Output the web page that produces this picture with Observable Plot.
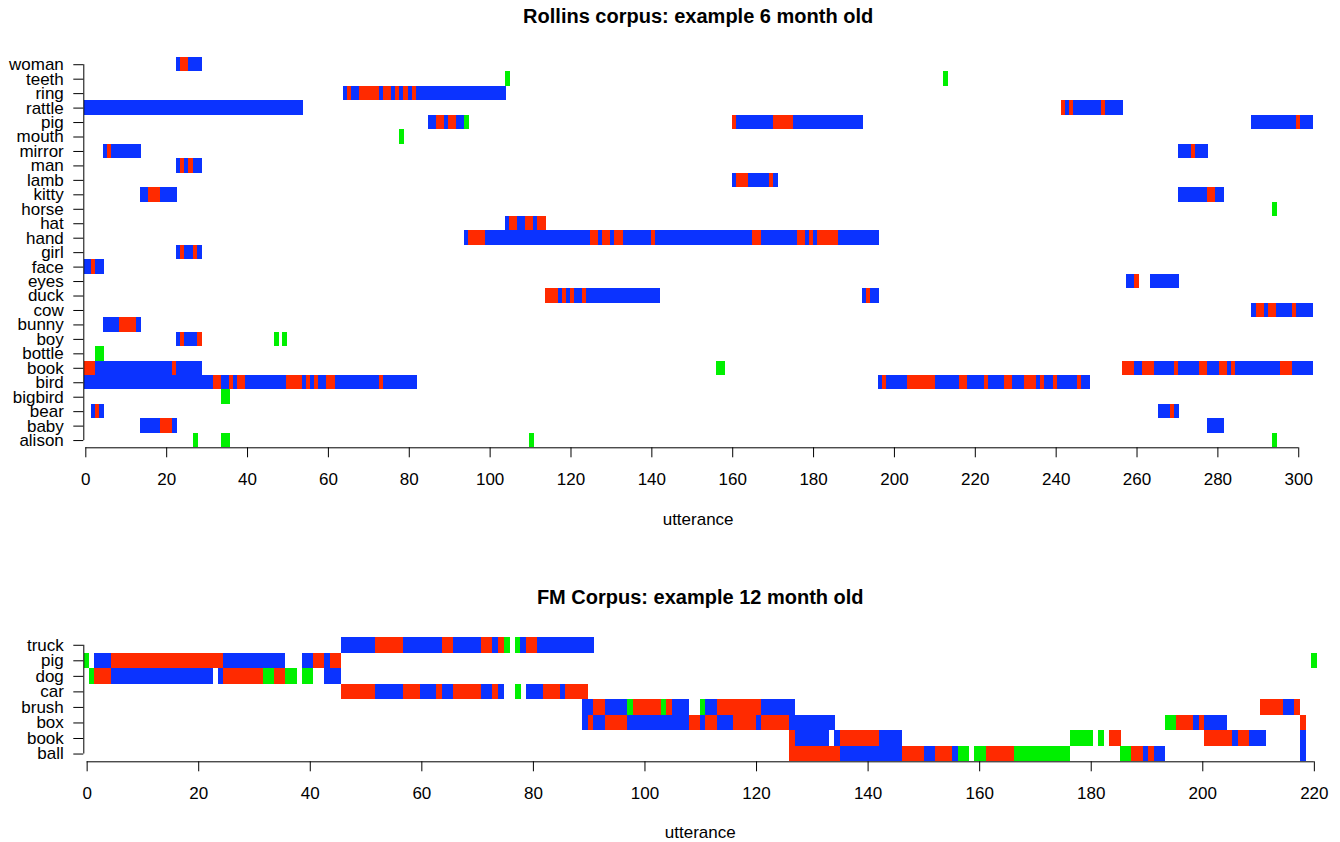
<!DOCTYPE html>
<html>
<head>
<meta charset="utf-8">
<script src="https://cdn.jsdelivr.net/npm/d3@7"></script>
<script src="https://cdn.jsdelivr.net/npm/@observablehq/plot@0.6"></script>
<style>
  html, body { margin: 0; padding: 0; background: #fff; }
  #wrap { position: relative; width: 1340px; height: 842px; overflow: hidden; font-family: "Liberation Sans", Arial, Helvetica, sans-serif; color: #000; background: #fff; }
  .ttl { position: absolute; z-index: 5; text-align: center; font-weight: bold; font-size: 20px; line-height: 20px; white-space: nowrap; }
  .xl { position: absolute; z-index: 5; text-align: center; font-size: 17px; line-height: 17px; white-space: nowrap; }
  .panel { position: absolute; left: 0; z-index: 1; }
</style>
</head>
<body>
<div id="wrap">
  <div class="panel" id="p1" style="top:0px;"></div>
  <div class="panel" id="p2" style="top:560px;"></div>
  <div class="ttl" id="t1" style="left:83.3px;width:1229.7px;top:6px;"></div>
  <div class="xl" id="x1" style="left:83.3px;width:1229.7px;top:510.5px;"></div>
  <div class="ttl" id="t2" style="left:83.3px;width:1233.9px;top:587px;"></div>
  <div class="xl" id="x2" style="left:83.3px;width:1233.9px;top:823.5px;"></div>
</div>
<script>
// ---------------- data ----------------
const titleTop = "Rollins corpus: example 6 month old";
const titleBottom = "FM Corpus: example 12 month old";
const xLabel = "utterance";

// categories (top to bottom)
const rowsTop = ["woman","teeth","ring","rattle","pig","mouth","mirror","man","lamb","kitty","horse","hat","hand","girl","face","eyes","duck","cow","bunny","boy","bottle","book","bird","bigbird","bear","baby","alison"];
const rowsBottom = ["truck","pig","dog","car","brush","box","book","ball"];

const xTicksTop = [0,20,40,60,80,100,120,140,160,180,200,220,240,260,280,300];
const xTicksBottom = [0,20,40,60,80,100,120,140,160,180,200,220];

// segment kinds: o = object present, n = object present & named, w = word without object
const kinds = ["o","n","w"];

// [word, start, end, kind]
const segsTop = [
  ["woman",22.4,23.4,"o"],["woman",23.4,25.4,"n"],["woman",25.4,28.9,"o"],
  ["teeth",103.8,105.1,"w"],["teeth",212.1,213.4,"w"],
  ["ring",63.7,64.7,"o"],["ring",64.7,65.7,"n"],["ring",65.7,67.7,"o"],["ring",67.7,72.6,"n"],["ring",72.6,73.6,"o"],["ring",73.6,75.6,"n"],["ring",75.6,76.6,"o"],["ring",76.6,77.6,"n"],["ring",77.6,78.6,"o"],["ring",78.6,79.8,"n"],["ring",79.8,80.8,"o"],["ring",80.8,81.8,"n"],["ring",81.8,104.1,"o"],
  ["rattle",-0.3,53.9,"o"],["rattle",241.3,242.3,"n"],["rattle",242.3,243.3,"o"],["rattle",243.3,244.3,"n"],["rattle",244.3,251.2,"o"],["rattle",251.2,252.2,"n"],["rattle",252.2,256.7,"o"],
  ["pig",84.8,86.7,"o"],["pig",86.7,88.7,"n"],["pig",88.7,89.7,"o"],["pig",89.7,91.7,"n"],["pig",91.7,93.7,"o"],["pig",93.7,94.9,"w"],["pig",160.0,160.9,"n"],["pig",160.9,170.1,"o"],["pig",170.1,175.0,"n"],["pig",175.0,192.4,"o"],["pig",288.3,299.5,"o"],["pig",299.5,300.4,"n"],["pig",300.4,303.7,"o"],
  ["mouth",77.6,78.8,"w"],
  ["mirror",4.4,5.4,"o"],["mirror",5.4,6.4,"n"],["mirror",6.4,13.8,"o"],["mirror",270.3,273.5,"o"],["mirror",273.5,274.5,"n"],["mirror",274.5,277.7,"o"],
  ["man",22.4,23.4,"o"],["man",23.4,24.4,"n"],["man",24.4,25.4,"o"],["man",25.4,26.6,"n"],["man",26.6,28.9,"o"],
  ["lamb",160.0,160.9,"o"],["lamb",160.9,163.9,"n"],["lamb",163.9,169.1,"o"],["lamb",169.1,170.1,"n"],["lamb",170.1,171.3,"o"],
  ["kitty",13.5,15.5,"o"],["kitty",15.5,18.5,"n"],["kitty",18.5,22.7,"o"],["kitty",270.3,277.4,"o"],["kitty",277.4,279.4,"n"],["kitty",279.4,281.7,"o"],
  ["horse",293.5,294.8,"w"],
  ["hat",103.8,104.8,"o"],["hat",104.8,106.8,"n"],["hat",106.8,108.8,"o"],["hat",108.8,110.7,"n"],["hat",110.7,111.7,"o"],["hat",111.7,114.0,"n"],
  ["hand",93.7,94.7,"o"],["hand",94.7,98.9,"n"],["hand",98.9,124.8,"o"],["hand",124.8,126.8,"n"],["hand",126.8,127.8,"o"],["hand",127.8,129.8,"n"],["hand",129.8,130.8,"o"],["hand",130.8,133.0,"n"],["hand",133.0,139.9,"o"],["hand",139.9,140.9,"n"],["hand",140.9,164.9,"o"],["hand",164.9,167.1,"n"],["hand",167.1,176.0,"o"],["hand",176.0,178.0,"n"],["hand",178.0,179.0,"o"],["hand",179.0,180.0,"n"],["hand",180.0,181.0,"o"],["hand",181.0,186.2,"n"],["hand",186.2,196.3,"o"],
  ["girl",22.4,23.4,"o"],["girl",23.4,24.4,"n"],["girl",24.4,26.6,"o"],["girl",26.6,27.6,"n"],["girl",27.6,28.9,"o"],
  ["face",-0.3,1.4,"o"],["face",1.4,2.4,"n"],["face",2.4,4.6,"o"],
  ["eyes",257.4,259.4,"o"],["eyes",259.4,260.6,"n"],["eyes",263.3,270.5,"o"],
  ["duck",113.7,116.9,"n"],["duck",116.9,117.9,"o"],["duck",117.9,118.9,"n"],["duck",118.9,119.9,"o"],["duck",119.9,120.9,"n"],["duck",120.9,122.9,"o"],["duck",122.9,123.9,"n"],["duck",123.9,142.2,"o"],["duck",192.1,193.1,"o"],["duck",193.1,194.1,"n"],["duck",194.1,196.3,"o"],
  ["cow",288.3,289.6,"o"],["cow",289.6,291.5,"n"],["cow",291.5,292.5,"o"],["cow",292.5,294.5,"n"],["cow",294.5,298.5,"o"],["cow",298.5,299.5,"n"],["cow",299.5,303.7,"o"],
  ["bunny",4.4,8.3,"o"],["bunny",8.3,12.5,"n"],["bunny",12.5,13.8,"o"],
  ["boy",22.4,23.4,"o"],["boy",23.4,24.4,"n"],["boy",24.4,27.6,"o"],["boy",27.6,28.9,"n"],["boy",46.7,47.9,"w"],["boy",48.7,49.9,"w"],
  ["bottle",2.4,4.6,"w"],
  ["book",-0.3,2.4,"n"],["book",2.4,21.4,"o"],["book",21.4,22.4,"n"],["book",22.4,28.9,"o"],["book",156.0,158.2,"w"],["book",256.4,259.4,"n"],["book",259.4,261.4,"o"],["book",261.4,264.3,"n"],["book",264.3,269.3,"o"],["book",269.3,270.3,"n"],["book",270.3,275.5,"o"],["book",275.5,277.4,"n"],["book",277.4,280.4,"o"],["book",280.4,282.4,"n"],["book",282.4,283.4,"o"],["book",283.4,284.4,"n"],["book",284.4,295.5,"o"],["book",295.5,298.5,"n"],["book",298.5,303.7,"o"],
  ["bird",-0.3,31.6,"o"],["bird",31.6,33.6,"n"],["bird",33.6,35.5,"o"],["bird",35.5,36.5,"n"],["bird",36.5,37.5,"o"],["bird",37.5,39.5,"n"],["bird",39.5,49.6,"o"],["bird",49.6,53.6,"n"],["bird",53.6,54.6,"o"],["bird",54.6,55.6,"n"],["bird",55.6,56.6,"o"],["bird",56.6,57.6,"n"],["bird",57.6,59.5,"o"],["bird",59.5,61.8,"n"],["bird",61.8,72.6,"o"],["bird",72.6,73.6,"n"],["bird",73.6,82.0,"o"],
  ["bird",196.1,197.1,"o"],["bird",197.1,198.1,"n"],["bird",198.1,203.2,"o"],["bird",203.2,210.2,"n"],["bird",210.2,216.1,"o"],["bird",216.1,218.1,"n"],["bird",218.1,222.3,"o"],["bird",222.3,223.3,"n"],["bird",223.3,227.2,"o"],["bird",227.2,229.2,"n"],["bird",229.2,232.2,"o"],["bird",232.2,235.1,"n"],["bird",235.1,236.1,"o"],["bird",236.1,237.1,"n"],["bird",237.1,239.4,"o"],["bird",239.4,240.3,"n"],["bird",240.3,245.3,"o"],["bird",245.3,246.3,"n"],["bird",246.3,248.5,"o"],
  ["bigbird",33.6,35.8,"w"],
  ["bear",1.4,2.4,"o"],["bear",2.4,3.4,"n"],["bear",3.4,4.6,"o"],["bear",265.3,268.3,"o"],["bear",268.3,269.3,"n"],["bear",269.3,270.5,"o"],
  ["baby",13.5,18.5,"o"],["baby",18.5,21.4,"n"],["baby",21.4,22.7,"o"],["baby",277.4,281.7,"o"],
  ["alison",26.6,27.9,"w"],["alison",33.6,35.8,"w"],["alison",109.7,111.0,"w"],["alison",293.5,294.8,"w"]
];

const segsBottom = [
  ["truck",45.6,51.7,"o"],["truck",51.7,56.7,"n"],["truck",56.7,63.7,"o"],["truck",63.7,65.7,"n"],["truck",65.7,70.7,"o"],["truck",70.7,72.7,"n"],["truck",72.7,73.8,"o"],["truck",73.8,74.8,"n"],["truck",74.8,75.9,"w"],["truck",76.8,77.7,"w"],["truck",77.7,78.8,"o"],["truck",78.8,80.7,"n"],["truck",80.7,91.0,"o"],
  ["pig",-0.5,0.4,"w"],["pig",1.3,4.4,"o"],["pig",4.4,24.4,"n"],["pig",24.4,35.6,"o"],["pig",38.6,40.6,"o"],["pig",40.6,42.6,"n"],["pig",42.6,43.6,"o"],["pig",43.6,45.6,"n"],["pig",219.5,220.6,"w"],
  ["dog",0.4,1.3,"w"],["dog",1.3,4.4,"n"],["dog",4.4,22.7,"o"],["dog",23.5,24.4,"o"],["dog",24.4,31.6,"n"],["dog",31.6,33.6,"w"],["dog",33.6,35.6,"n"],["dog",35.6,37.7,"w"],["dog",38.6,40.6,"w"],["dog",42.6,45.6,"o"],
  ["car",45.6,51.7,"n"],["car",51.7,56.7,"o"],["car",56.7,59.8,"n"],["car",59.8,62.6,"o"],["car",62.6,63.7,"n"],["car",63.7,65.7,"o"],["car",65.7,70.7,"n"],["car",70.7,72.7,"o"],["car",72.7,73.8,"n"],["car",73.8,74.8,"o"],["car",76.8,77.9,"w"],["car",78.8,81.8,"o"],["car",81.8,84.9,"n"],["car",84.9,85.8,"o"],["car",85.8,89.9,"n"],
  ["brush",88.8,90.8,"o"],["brush",90.8,92.9,"n"],["brush",92.9,96.9,"o"],["brush",96.9,98.0,"w"],["brush",98.0,103.0,"n"],["brush",103.0,103.9,"w"],["brush",103.9,104.9,"n"],["brush",104.9,108.0,"o"],["brush",110.0,110.9,"w"],["brush",110.9,113.0,"o"],["brush",113.0,120.9,"n"],["brush",120.9,127.0,"o"],["brush",210.4,214.5,"n"],["brush",214.5,216.5,"o"],["brush",216.5,217.5,"n"],
  ["box",88.8,89.9,"o"],["box",89.9,90.8,"n"],["box",90.8,92.9,"o"],["box",92.9,96.9,"n"],["box",96.9,108.0,"o"],["box",108.0,110.0,"n"],["box",110.0,110.9,"o"],["box",110.9,113.0,"n"],["box",113.0,115.9,"o"],["box",115.9,120.0,"n"],["box",120.0,120.9,"o"],["box",120.9,125.9,"n"],["box",125.9,134.2,"o"],["box",193.3,195.3,"w"],["box",195.3,198.4,"n"],["box",198.4,199.4,"o"],["box",199.4,200.3,"n"],["box",200.3,204.5,"o"],["box",217.5,218.6,"n"],
  ["book",125.9,127.0,"n"],["book",127.0,133.1,"o"],["book",134.0,135.1,"o"],["book",135.1,142.1,"n"],["book",142.1,146.2,"o"],["book",176.3,180.4,"w"],["book",181.3,182.4,"w"],["book",183.3,185.5,"n"],["book",200.3,205.4,"n"],["book",205.4,206.4,"o"],["book",206.4,208.4,"n"],["book",208.4,211.5,"o"],["book",217.5,218.6,"o"],
  ["ball",125.9,135.1,"n"],["ball",135.1,146.2,"o"],["ball",146.2,150.1,"n"],["ball",150.1,152.1,"o"],["ball",152.1,155.2,"n"],["ball",155.2,156.2,"o"],["ball",156.2,158.2,"w"],["ball",159.1,161.2,"w"],["ball",161.2,166.3,"n"],["ball",166.3,176.3,"w"],["ball",185.3,187.2,"w"],["ball",187.2,189.4,"n"],["ball",189.4,190.3,"o"],["ball",190.3,191.4,"n"],["ball",191.4,193.3,"o"],["ball",217.5,218.6,"o"]
];

// ---------------- drawing ----------------
const kindColors = ["#0b33ff", "#ff2a00", "#00f000"];
const font = '"Liberation Sans", Arial, Helvetica, sans-serif';

function panel({rows, segs, ticks, xDomain, height, mTop, mBottom, mLeft, mRight}) {
  const n = rows.length;
  const idx = new Map(rows.map((r, i) => [r, n - 1 - i]));
  const positions = rows.map((r, i) => n - 1 - i);
  return Plot.plot({
    width: 1340,
    height,
    marginTop: mTop,
    marginBottom: mBottom,
    marginLeft: mLeft,
    marginRight: mRight,
    style: {fontFamily: font, fontSize: "17px", color: "#000", background: "transparent", overflow: "visible"},
    x: {domain: xDomain},
    y: {domain: [-0.5, n - 0.5]},
    color: {domain: kinds, range: kindColors},
    marks: [
      Plot.rect(segs, {
        x1: d => d[1], x2: d => d[2],
        y1: d => idx.get(d[0]) - 0.5, y2: d => idx.get(d[0]) + 0.5,
        fill: d => d[3],
        shapeRendering: "crispEdges"
      }),
      Plot.ruleY([-0.5], {x1: ticks[0], x2: ticks[ticks.length - 1], stroke: "#000", strokeWidth: 1}),
      Plot.ruleX([xDomain[0]], {y1: 0, y2: n - 1, stroke: "#000", strokeWidth: 1}),
      Plot.axisX({ticks, tickSize: 10, tickPadding: 15, label: null, tickFormat: d => String(d), stroke: "#000", fill: "#000"}),
      Plot.axisY({ticks: positions, tickSize: 10, tickPadding: 10, label: null, tickFormat: i => rows[n - 1 - i], stroke: "#000", fill: "#000"})
    ]
  });
}

document.getElementById("t1").textContent = titleTop;
document.getElementById("t2").textContent = titleBottom;
document.getElementById("x1").textContent = xLabel;
document.getElementById("x2").textContent = xLabel;

document.getElementById("p1").appendChild(panel({
  rows: rowsTop, segs: segsTop, ticks: xTicksTop, xDomain: [-0.5, 303.6],
  height: 540, mTop: 57, mBottom: 92.7, mLeft: 83.3, mRight: 27.2
}));

document.getElementById("p2").appendChild(panel({
  rows: rowsBottom, segs: segsBottom, ticks: xTicksBottom, xDomain: [-0.6, 220.6],
  height: 282, mTop: 77, mBottom: 80.7, mLeft: 83.3, mRight: 22.8
}));
</script>
</body>
</html>
